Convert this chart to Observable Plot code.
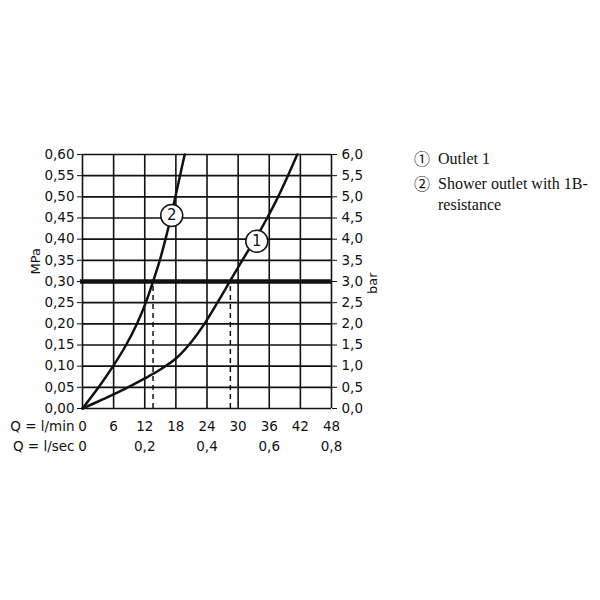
<!DOCTYPE html>
<html>
<head>
<meta charset="utf-8">
<script src="https://cdn.jsdelivr.net/npm/d3@7"></script>
<script src="https://cdn.jsdelivr.net/npm/@observablehq/plot@0.6"></script>
<style>
  body { margin: 0; background: #fff; }
  #wrap { position: relative; width: 600px; height: 600px; }
  #legend { position: absolute; left: 414px; top: 148px; font-family: "Liberation Serif", "Times New Roman", serif; font-size: 16px; color: #111; line-height: 21px; }
  #legend .row { display: flex; margin-bottom: 4px; }
  #legend .sym { width: 24px; flex: none; font-family: "Noto Sans CJK JP", "DejaVu Sans", sans-serif; font-size: 16px; line-height: 21px; }
</style>
</head>
<body>
<div id="wrap"><div id="legend"></div></div>
<script>
// Flow rate ticks (l/min) and pressure ticks (MPa)
const xTicks = [0, 6, 12, 18, 24, 30, 36, 42, 48];
const secTicks = [0, 12, 24, 36, 48];
const secLabels = ["0", "0,2", "0,4", "0,6", "0,8"];
const yTicks = [0, 0.05, 0.10, 0.15, 0.20, 0.25, 0.30, 0.35, 0.40, 0.45, 0.50, 0.55, 0.60];

// Curve 1: Outlet 1
const c1Flow = [0, 4, 8, 12, 15, 18, 20.5, 23.5, 26.0, 28.4, 30.8, 33.3, 35.6, 37.7, 39.6, 41.4];
const c1Press = [0, 0.022, 0.045, 0.071, 0.092, 0.118, 0.15, 0.20, 0.25, 0.30, 0.35, 0.40, 0.45, 0.50, 0.55, 0.60];
// Curve 2: Shower outlet with 1B-resistance
const c2Flow = [0, 3.1, 5.9, 8.4, 10.5, 12.2, 13.6, 14.9, 16.0, 17.0, 17.9, 18.8, 19.7];
const c2Press = [0, 0.05, 0.10, 0.15, 0.20, 0.25, 0.30, 0.35, 0.40, 0.45, 0.50, 0.55, 0.60];

// Reference pressure and flow readings at 0.3 MPa
const refPress = 0.30;
const refFlows = [13.6, 28.5];

// Curve markers
const markFlow = [33.6, 17.2];
const markPress = [0.395, 0.456];
const markText = ["1", "2"];

const legendItems = [["①", "Outlet 1"], ["②", "Shower outlet with 1B-resistance"]];

const c1 = c1Flow.map((x, i) => ({x, y: c1Press[i]}));
const c2 = c2Flow.map((x, i) => ({x, y: c2Press[i]}));
const marks = markFlow.map((x, i) => ({x, y: markPress[i], t: markText[i]}));
const secs = secTicks.map((x, i) => ({x, t: secLabels[i]}));

const fmt2 = d => d.toFixed(2).replace(".", ",");
const fmtBar = d => (d * 10).toFixed(1).replace(".", ",");
const ink = "#111";

const chart = Plot.plot({
  width: 600,
  height: 600,
  marginLeft: 82,
  marginRight: 269,
  marginTop: 154,
  marginBottom: 192,
  style: {fontFamily: "'DejaVu Sans', sans-serif", fontSize: "13.5px", color: ink, background: "#fff"},
  x: {domain: [0, 48], axis: null},
  y: {domain: [0, 0.6]},
  marks: [
    Plot.ruleX(xTicks, {x: d => d, stroke: ink, strokeWidth: 1.6}),
    Plot.ruleY(yTicks, {y: d => d, stroke: ink, strokeWidth: 1.6}),
    Plot.ruleY([refPress], {y: d => d, x1: -0.4, x2: 48, stroke: ink, strokeWidth: 4.5}),
    Plot.ruleX(refFlows, {x: d => d, y1: 0, y2: refPress, stroke: ink, strokeWidth: 1.5, strokeDasharray: "5,4"}),
    Plot.line(c1, {x: "x", y: "y", stroke: ink, strokeWidth: 2.5, curve: "catmull-rom"}),
    Plot.line(c2, {x: "x", y: "y", stroke: ink, strokeWidth: 2.5, curve: "catmull-rom"}),
    Plot.dot(marks, {x: "x", y: "y", r: 11, fill: "white", stroke: ink, strokeWidth: 1.5}),
    Plot.text(marks, {x: "x", y: "y", text: "t", fontSize: 15, fill: ink}),
    Plot.axisY({ticks: yTicks, tickFormat: fmt2, tickSize: 5, tickPadding: 3, label: null, fontSize: 13.5}),
    Plot.axisY({anchor: "right", ticks: yTicks, tickFormat: fmtBar, tickSize: 5, tickPadding: 5, label: null, fontSize: 13.5}),
    Plot.text(xTicks, {x: d => d, frameAnchor: "bottom", dy: 22, text: d => String(d), fontSize: 13.5, fill: ink}),
    Plot.text(secs, {x: "x", frameAnchor: "bottom", dy: 42, text: "t", fontSize: 13.5, fill: ink}),
    Plot.text(["Q = l/min"], {frameAnchor: "bottom-left", dx: -8, dy: 22, textAnchor: "end", fontSize: 13.5, fill: ink}),
    Plot.text(["Q = l/sec"], {frameAnchor: "bottom-left", dx: -8, dy: 42, textAnchor: "end", fontSize: 13.5, fill: ink}),
    Plot.text(["MPa"], {frameAnchor: "left", dx: -47, dy: -7, rotate: -90, fontSize: 13, fill: ink}),
    Plot.text(["bar"], {frameAnchor: "right", dx: 41, dy: -9, rotate: -90, fontSize: 13, fill: ink})
  ]
});

const wrap = document.getElementById("wrap");
wrap.insertBefore(chart, wrap.firstChild);

const legend = document.getElementById("legend");
legendItems.forEach(([s, t]) => {
  const row = document.createElement("div");
  row.className = "row";
  const sym = document.createElement("div");
  sym.className = "sym";
  sym.textContent = s;
  const txt = document.createElement("div");
  txt.style.width = "160px";
  txt.textContent = t;
  row.appendChild(sym);
  row.appendChild(txt);
  legend.appendChild(row);
});
</script>
</body>
</html>
